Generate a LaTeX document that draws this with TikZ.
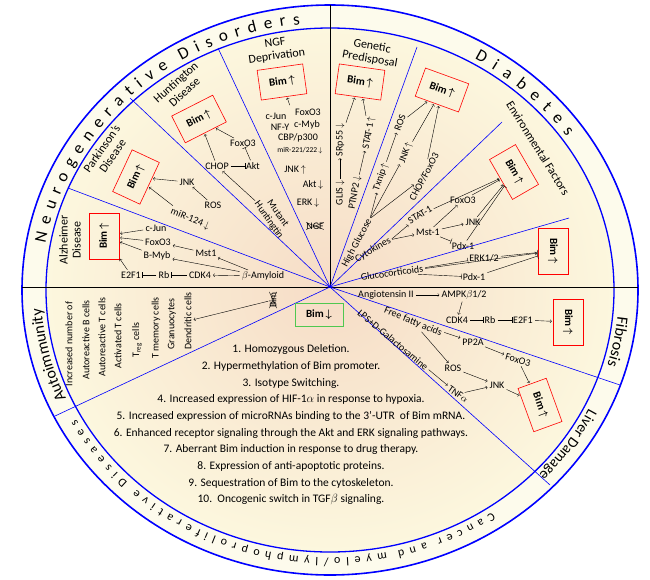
\documentclass[tikz,border=0pt]{standalone}
\usepackage{amsmath,amssymb}
\usepackage{fontspec}
\setmainfont{Carlito}
\usetikzlibrary{positioning,shapes.misc,decorations.text}

\newcommand{\bimup}{Bim\,$\boldsymbol{\uparrow}$}
\newcommand{\bimdn}{Bim\,$\boldsymbol{\downarrow}$}
\newcommand{\dn}{\,$\downarrow$}
\newcommand{\up}{\,$\uparrow$}

\tikzset{
  lbl/.style={font=\fontsize{10}{11}\selectfont, inner sep=1pt},
  sect/.style={font=\fontsize{12}{13}\selectfont, align=center, inner sep=1pt},
  bim/.style={draw=red, line width=0.6pt, minimum width=46pt, minimum height=30pt, font=\fontsize{11}{11}\selectfont\bfseries},
  act/.style={->, shorten >=1pt, shorten <=1pt},
  inh/.style={arrows={-|}, shorten <=1pt},
  divb/.style={blue, line width=0.6pt},
  ring/.style={decorate, decoration={text along path, text align=fit to path}},
  ringc/.style={decorate, decoration={text along path, text align=center}},
}

\begin{document}
\begin{tikzpicture}[x=1pt,y=1pt]
\useasboundingbox (0,0) rectangle (650,-579);
% background and rings
\fill[fill={rgb,255:red,253;green,251;blue,236}] (330,-290) ellipse [x radius=308, y radius=285];
\shade[inner color={rgb,255:red,246;green,220;blue,198}, outer color={rgb,255:red,252;green,247;blue,222}] (330,-290) ellipse [x radius=284, y radius=262];
\draw[blue, line width=1.6pt] (330,-290) ellipse [x radius=308, y radius=285];
\draw[blue, line width=1.3pt] (330,-290) ellipse [x radius=284, y radius=262];
% dividers
\coordinate (ctr) at (330,-287);
\draw[line width=0.6pt] (22,-287) -- (638,-287);
\draw[line width=0.6pt] (ctr) -- (330,-5);
\foreach \p in {(68,-188),(130,-98),(218,-48),(417,-47),(502,-122),(569,-218),(620,-385),(550,-485),(55,-416)}
  \draw[divb] (ctr) -- \p;
% ring labels
\path[ring, decoration={text={|\fontsize{17}{17}\selectfont|N e u r o g e n e r a t i v e {} D i s o r d e r s}}]
  (330,-290) ++(170:289 and 267) arc[start angle=170, end angle=96, x radius=289, y radius=267];
\path[ring, decoration={text={|\fontsize{17}{17}\selectfont|D i a b e t e s}}]
  (330,-290) ++(60:289 and 267) arc[start angle=60, end angle=35, x radius=289, y radius=267];
\path[ringc, decoration={text={|\fontsize{16}{16}\selectfont|Fibrosis}}]
  (330,-290) ++(-1:289 and 267) arc[start angle=-1, end angle=-21, x radius=289, y radius=267];
\path[ringc, decoration={text={|\fontsize{15}{15}\selectfont|Liver Damage}}]
  (330,-290) ++(-21:289 and 267) arc[start angle=-21, end angle=-49, x radius=289, y radius=267];
\path[ringc, decoration={text={|\fontsize{16}{16}\selectfont|Autoimmunity}}]
  (330,-290) ++(208:289 and 267) arc[start angle=208, end angle=180, x radius=289, y radius=267];
\path[ring, decoration={text={|\fontsize{12}{12}\selectfont|C a n c e r {} a n d {} m y e l o / l y m p h o p r o l i f e r a t i v e {} D i s e a s e s}}]
  (330,-290) ++(-56:290 and 268) arc[start angle=-56, end angle=-151, x radius=290, y radius=268];

% Alzheimer
\node[sect, rotate=90] (alz) at (70,-240) {Alzheimer\\Disease};
\node[bim, rotate=90] (alzBim) at (104,-236) {\bimup};
\node[lbl] (alzJun) at (156,-228) {c-Jun};
\node[lbl] (alzFox) at (158,-242) {FoxO3};
\node[lbl] (alzMyb) at (157,-256) {B-Myb};
\node[lbl] (alzMst) at (206,-253) {Mst1};
\node[lbl] (alzE2f) at (131,-275) {E2F1};
\node[lbl] (alzRb) at (164,-275) {Rb};
\node[lbl] (alzCdk) at (200,-275) {CDK4};
\node[lbl] (alzAmy) at (263,-276) {$\beta$-Amyloid};
\node[lbl, rotate=-22] (alzMir) at (190,-219) {miR-124\dn};
\draw[act] (alzJun) -- (alzBim);
\draw[act] (alzFox) -- (alzBim);
\draw[act] (alzMyb) -- (alzBim);
\draw[act] (alzE2f) -- (alzBim);
\draw[act] (alzMst) -- (alzFox);
\draw[act] (alzAmy) -- (alzMst);
\draw[act] (alzAmy) -- (alzMyb);
\draw[act] (alzAmy) -- (alzCdk);
\draw[inh] (alzCdk) -- (alzRb);
\draw[inh] (alzRb) -- (alzE2f);
% Parkinson
\node[sect, rotate=55] (park) at (107,-152) {Parkinson's\\Disease};
\node[bim, rotate=65] (parkBim) at (136,-177) {\bimup};
\node[lbl] (parkJnk) at (187,-182) {JNK};
\node[lbl] (parkRos) at (213,-205) {ROS};
\draw[act] (parkJnk) -- (parkBim);
\draw[act] (parkRos) -- (parkJnk);
\draw[act] (alzMir) -- (parkBim);
% Huntington
\node[sect, rotate=42] (hunt) at (180,-87) {Huntington\\Disease};
\node[bim, rotate=27] (huntBim) at (199,-119) {\bimup};
\node[lbl] (huntFox) at (243,-143) {FoxO3};
\node[lbl] (huntChop) at (217,-166) {CHOP};
\node[lbl] (huntAkt) at (253,-166) {Akt};
\node[lbl, rotate=-55, align=center] (huntMut) at (273,-217) {Mutant\\Huntingtin};
\draw[act] (huntChop) -- (huntBim);
\draw[act] (huntFox) -- (huntBim);
\draw[inh] (huntAkt) -- (huntFox);
\draw[inh] (huntChop) -- (huntAkt);
\draw[act] (huntMut) -- (huntChop);
% NGF deprivation
\node[sect, rotate=8] (ngf) at (276,-50) {NGF\\Deprivation};
\node[bim, rotate=8] (ngfBim) at (282,-82) {\bimup};
\node[lbl] (ngfJun) at (276,-116) {c-Jun};
\node[lbl] (ngfFox) at (308,-112) {FoxO3};
\node[lbl] (ngfNfy) at (280,-127) {NF-Y};
\node[lbl] (ngfMyb) at (307,-125) {c-Myb};
\node[lbl] (ngfCbp) at (298,-138) {CBP/p300};
\node[lbl, font=\fontsize{7.5}{8}\selectfont] (ngfMir) at (300,-151) {miR-221/222\dn};
\node[lbl] (ngfJnk) at (295,-170) {JNK\up};
\node[lbl] (ngfAkt) at (313,-185) {Akt\dn};
\node[lbl] (ngfErk) at (308,-203) {ERK\dn};
\node[lbl, draw, cross out, inner sep=0pt] (ngfNgf) at (315,-226) {NGF};
\coordinate (ngfTop) at (290,-106);
\draw[act] (ngfTop) -- (ngfBim);
% Genetic predisposal
\node[sect, rotate=-10] (gen) at (371,-53) {Genetic\\Predisposal};
\node[bim, rotate=-8] (genBim) at (360,-82) {\bimup};
\node[lbl, rotate=90] (genGlis) at (340,-193) {GLIS\dn};
\node[lbl, rotate=90] (genSrp) at (340,-140) {SRp55\dn};
\node[lbl, rotate=80] (genPtn) at (355,-193) {PTNP2\dn};
\node[lbl, rotate=80] (genStat) at (369,-133) {STAT-1\up};
\draw[act] (genGlis) -- (genSrp);
\draw[act] (genSrp) -- (genBim);
\draw[act] (genPtn) -- (genStat);
\draw[act] (genStat) -- (genBim);
% High glucose
\node[lbl, rotate=62] (hg) at (357,-243) {High Glucose};
\node[lbl, rotate=70] (hgTx) at (381,-177) {Txnip\up};
\node[lbl, rotate=70] (hgRos) at (400,-123) {ROS};
\node[lbl, rotate=70] (hgJnk) at (406,-153) {JNK\up};
\node[lbl, rotate=62] (hgChop) at (424,-177) {CHOP/FoxO3};
\node[bim, rotate=-20] (hgBim) at (442,-90) {\bimup};
\draw[act] (hg.east) -- (hgTx);
\draw[act] (hg.east) -- (hgJnk);
\draw[act] (hg.east) -- (hgChop);
\draw[act] (hgTx) -- (hgRos);
\draw[act] (hgRos) -- (hgBim);
\draw[act] (hgJnk) -- (hgBim);
\draw[act] (hgChop) -- (hgBim);
% Environmental factors
\node[sect, rotate=-58] (env) at (538,-148) {Environmental Factors};
\node[bim, rotate=-60] (envBim) at (514,-172) {\bimup};
\node[lbl, rotate=30] (envCyt) at (373,-250) {Cytokines};
\node[lbl, rotate=30] (envStat) at (420,-215) {STAT-1};
\node[lbl] (envFox) at (463,-200) {FoxO3};
\node[lbl] (envMst) at (428,-232) {Mst-1};
\node[lbl] (envJnk) at (473,-222) {JNK};
\node[lbl] (envPdx) at (463,-246) {Pdx-1};
\draw[act] (envCyt.east) -- (envStat);
\draw[act] (envCyt.east) -- (envMst);
\draw[act] (envStat) -- (envBim);
\draw[act] (envMst) -- (envFox);
\draw[act] (envFox) -- (envBim);
\draw[act] (envMst) -- (envJnk);
\draw[act] (envJnk) -- (envBim);
\draw[inh] (envMst) -- (envPdx);
\draw[inh] (envPdx) -- (envBim);
% Glucocorticoids
\node[lbl, rotate=8] (gc) at (392,-273) {Glucocorticoids};
\node[bim, rotate=-90] (gcBim) at (553,-251) {\bimup};
\node[lbl] (gcErk) at (484,-258) {ERK1/2};
\node[lbl] (gcPdx) at (474,-277) {Pdx-1};
\draw[act] (gc) -- (gcBim);
\draw[inh] (gc) -- (gcErk);
\draw[inh] (gcErk) -- (gcBim);
\draw[inh] (gc) -- (gcPdx);
\draw[inh] (gcPdx) -- (gcBim);
% Fibrosis
\node[lbl] (fibAng) at (386,-295) {Angiotensin II};
\node[lbl] (fibAmpk) at (464,-295) {AMPK$\beta$1/2};
\node[lbl] (fibCdk) at (457,-320) {CDK4};
\node[lbl] (fibRb) at (490,-320) {Rb};
\node[lbl] (fibE2f) at (523,-320) {E2F1};
\node[bim, rotate=-90] (fibBim) at (568,-322) {\bimup};
\draw[act] (fibAng) -- (fibAmpk);
\draw[act] (fibAmpk) -- (fibCdk);
\draw[inh] (fibCdk) -- (fibRb);
\draw[inh] (fibRb) -- (fibE2f);
\draw[act] (fibE2f) -- (fibBim);
% Liver damage
\node[lbl, rotate=-22] (livFfa) at (413,-322) {Free fatty acids};
\node[lbl, rotate=-40] (livLps) at (393,-340) {LPS+D-Galactosamine};
\node[lbl] (livPp) at (473,-342) {PP2A};
\node[lbl] (livRos) at (453,-368) {ROS};
\node[lbl, rotate=-15] (livFox) at (518,-360) {FoxO3};
\node[lbl] (livJnk) at (497,-385) {JNK};
\node[lbl, rotate=-35] (livTnf) at (458,-394) {TNF$\alpha$};
\node[bim, rotate=-70] (livBim) at (540,-405) {\bimup};
\draw[act] (livFfa) -- (livPp);
\draw[act] (livFfa) -- (livRos);
\draw[act] (livPp) -- (livFox);
\draw[act] (livFox) -- (livBim);
\draw[act] (livRos) -- (livJnk);
\draw[act] (livLps) -- (livTnf);
\draw[act] (livTnf) -- (livJnk);
\draw[act] (livJnk) -- (livBim);
% Autoimmunity
\node[lbl, rotate=90] (autInc) at (69,-344) {Increased number of};
\node[lbl, rotate=90] (autBc) at (86,-340) {Autoreactive B cells};
\node[lbl, rotate=90] (autTc) at (102,-337) {Autoreactive T cells};
\node[lbl, rotate=90] (autAct) at (118,-336) {Activated T cells};
\node[lbl, rotate=90] (autReg) at (137,-340) {T\textsubscript{reg} cells};
\node[lbl, rotate=90] (autMem) at (156,-328) {T memory cells};
\node[lbl, rotate=90] (autGra) at (172,-324) {Granuocytes};
\node[lbl, rotate=90] (autDen) at (188,-321) {Dendritic cells};
\node[lbl, rotate=90, draw, cross out, inner sep=0pt] (autBim) at (273,-300) {Bim};
\draw[act] (autBim) -- (autDen);
% Cancer
\node[draw={rgb,255:red,80;green,200;blue,80}, line width=0.8pt, minimum width=48pt, minimum height=23pt,
  font=\fontsize{11}{11}\selectfont\bfseries] (canBim) at (319,-315) {\bimdn};
\node[align=center, font=\fontsize{11.5}{16.7}\selectfont] (canList) at (291,-425) {%
1. Homozygous Deletion.\\
2. Hypermethylation of Bim promoter.\\
3. Isotype Switching.\\
4. Increased expression of HIF-1$\alpha$ in response to hypoxia.\\
5. Increased expression of microRNAs binding to the 3'-UTR\ \ of Bim mRNA.\\
6. Enhanced receptor signaling through the Akt and ERK signaling pathways.\\
7. Aberrant Bim induction in response to drug therapy.\\
8. Expression of anti-apoptotic proteins.\\
9. Sequestration of Bim to the cytoskeleton.\\
10.\ \ Oncogenic switch in TGF$\beta$ signaling.};
\end{tikzpicture}
\end{document}
